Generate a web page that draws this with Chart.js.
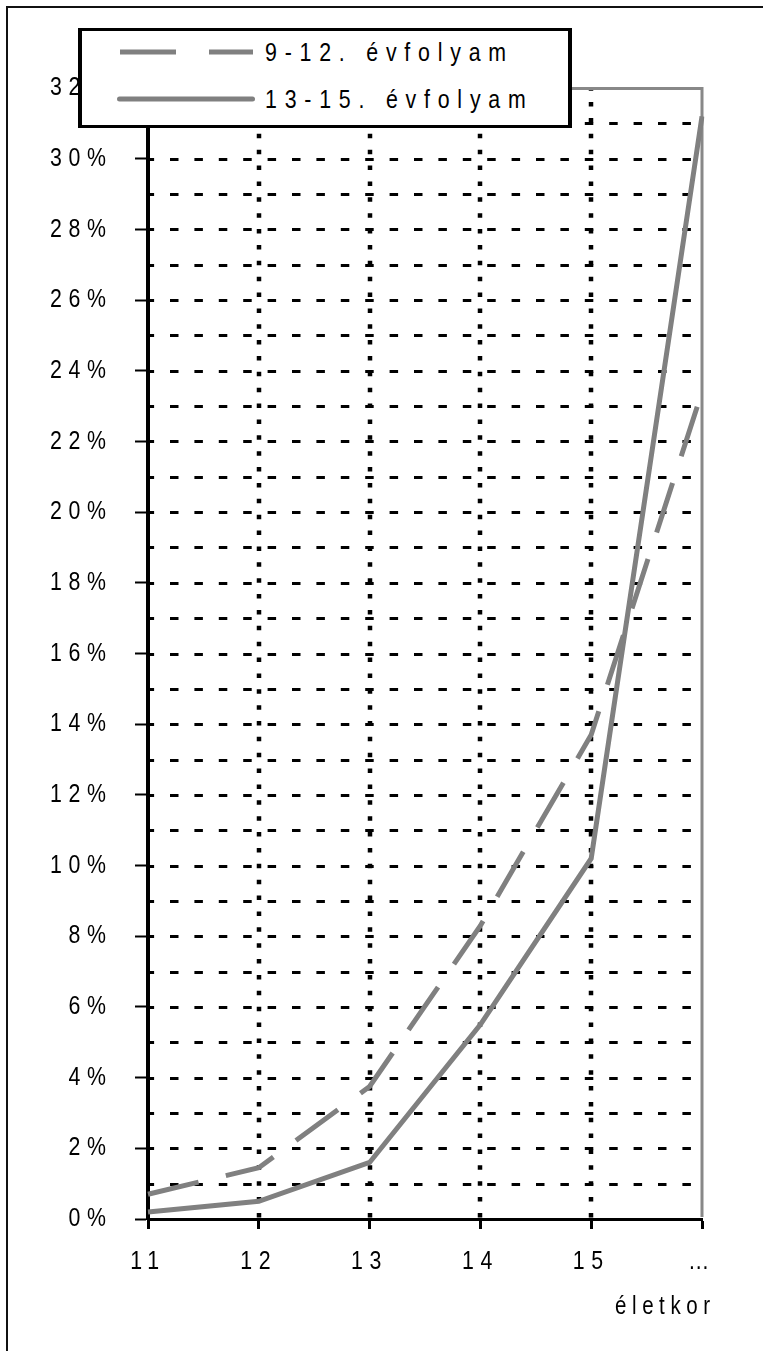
<!DOCTYPE html>
<html><head><meta charset="utf-8">
<script src="https://cdn.jsdelivr.net/npm/chart.js@4.4.1/dist/chart.umd.min.js"></script>
<style>
html,body{margin:0;padding:0;background:#fff;}
#wrap{position:relative;width:763px;height:1351px;overflow:hidden;background:#fff;}
#frame{position:absolute;left:6px;top:6px;width:800px;height:1400px;border-top:2px solid #111;border-left:2px solid #111;}
#c{position:absolute;left:0;top:0;}
#legend{position:absolute;left:78px;top:28px;width:486px;height:94px;border-style:solid;border-color:#000;border-width:3px 4px;background:#fff;}
#lgsvg{position:absolute;left:0;top:0;}
.lg{position:absolute;left:265px;font-size:26px;font-family:'Liberation Sans',Arial,sans-serif;letter-spacing:9.5px;color:#000;line-height:30px;white-space:nowrap;transform:scaleX(0.82);transform-origin:0 50%;}
</style></head>
<body><div id="wrap"><div id="frame"></div><canvas id="c" width="763" height="1351"></canvas>
<div id="legend"></div>
<svg id="lgsvg" width="763" height="140">
  <line x1="120" y1="52" x2="253" y2="52" stroke="#808080" stroke-width="5" stroke-dasharray="56 33"/>
  <line x1="119.5" y1="99" x2="252.5" y2="99" stroke="#808080" stroke-width="5" stroke-linecap="round"/>
</svg>
<div class="lg" id="lg0" style="top:37px"></div>
<div class="lg" id="lg1" style="top:84px"></div>
</div>
<script>
// ---- data ----
const categories = ['11', '12', '13', '14', '15', '…'];
const grade9to12 = [0.7, 1.45, 3.75, 8.3, 13.7, 23.4];
const grade13to15 = [0.2, 0.5, 1.6, 5.5, 10.2, 31.2];
const seriesNames = ['9-12. évfolyam', '13-15. évfolyam'];
const yMin = 0, yMax = 32, yStep = 2, yMinorStep = 1;
const xTitle = 'életkor';

const FONT = "'Liberation Sans',Arial,sans-serif";
const SPACING = '8.1px';
const SQUEEZE = 0.82;

document.getElementById('lg0').textContent = seriesNames[0];
document.getElementById('lg1').textContent = seriesNames[1];

// condensed text rendering (emulates the narrow typeface of the original)
const canvas = document.getElementById('c');
const ctx2d = canvas.getContext('2d');
const origFill = ctx2d.fillText;
ctx2d.fillText = function (t, x, y, mw) {
  this.save();
  this.translate(x, y);
  this.scale(SQUEEZE, 1);
  if (mw === undefined) origFill.call(this, t, 0, 0);
  else origFill.call(this, t, 0, 0, mw / SQUEEZE);
  this.restore();
};

const gridPlugin = {
  id: 'customGrid',
  beforeUpdate(chart) { chart.ctx.letterSpacing = SPACING; },
  beforeDraw(chart) { chart.ctx.letterSpacing = SPACING; },
  beforeDatasetsDraw(chart) {
    const {ctx, chartArea: a, scales: {x, y}} = chart;
    ctx.save();
    ctx.strokeStyle = '#000';
    ctx.lineWidth = 3;
    ctx.setLineDash([8.5, 15.9]);
    ctx.lineDashOffset = 2.4;
    for (let v = yMin + yMinorStep; v < yMax; v += yMinorStep) {
      const py = Math.round(y.getPixelForValue(v)) + 0.5;
      ctx.beginPath(); ctx.moveTo(a.left, py); ctx.lineTo(a.right - 2, py); ctx.stroke();
    }
    ctx.lineWidth = 4.5;
    ctx.setLineDash([4.5, 11.37]);
    ctx.lineDashOffset = 1.8;
    for (let i = 1; i < categories.length - 1; i++) {
      const px = Math.round(x.getPixelForValue(i));
      ctx.beginPath(); ctx.moveTo(px, a.top); ctx.lineTo(px, a.bottom); ctx.stroke();
    }
    ctx.setLineDash([]);
    ctx.strokeStyle = '#888';
    ctx.lineWidth = 3;
    ctx.beginPath();
    ctx.moveTo(a.left, a.top + 0.5);
    ctx.lineTo(a.right, a.top + 0.5);
    ctx.lineTo(a.right, a.bottom - 2);
    ctx.stroke();
    ctx.restore();
  },
  afterDraw(chart) {
    const {ctx, chartArea: a} = chart;
    ctx.save();
    ctx.letterSpacing = '6.8px';
    ctx.font = '25px ' + FONT;
    ctx.fillStyle = '#000';
    ctx.textAlign = 'right';
    ctx.textBaseline = 'middle';
    ctx.fillText(xTitle, a.right + 13.6, a.bottom + 88);
    ctx.restore();
  }
};

Chart.defaults.font.family = FONT;

new Chart(canvas, {
  type: 'line',
  data: {
    labels: categories,
    datasets: [
      {label: seriesNames[0], data: grade9to12, borderColor: '#808080', borderWidth: 5,
       borderDash: [52, 28], pointRadius: 0, tension: 0, fill: false, borderCapStyle: 'butt'},
      {label: seriesNames[1], data: grade13to15, borderColor: '#808080', borderWidth: 5,
       pointRadius: 0, tension: 0, fill: false, borderCapStyle: 'butt'}
    ]
  },
  options: {
    responsive: false,
    devicePixelRatio: 1,
    animation: false,
    layout: {padding: {top: 88, right: 61, left: 0, bottom: 0}},
    plugins: {legend: {display: false}, tooltip: {enabled: false}},
    scales: {
      x: {
        type: 'category', offset: false,
        grid: {display: true, drawOnChartArea: false, drawTicks: true, tickLength: 10, tickWidth: 3, tickColor: '#000'},
        border: {display: true, color: '#000', width: 3},
        ticks: {color: '#000', font: {size: 26}, padding: 17, maxRotation: 0, autoSkip: false},
        afterFit(s) { s.height = 132; }
      },
      y: {
        min: yMin, max: yMax,
        grid: {display: true, drawOnChartArea: false, drawTicks: true, tickLength: 13, tickWidth: 2, tickColor: '#000'},
        border: {display: true, color: '#000', width: 4},
        ticks: {stepSize: yStep, color: '#000', font: {size: 26}, padding: 22.3, callback: v => v + '%'},
        afterFit(s) { s.width = 148; }
      }
    }
  },
  plugins: [gridPlugin]
});
</script>
</body></html>
